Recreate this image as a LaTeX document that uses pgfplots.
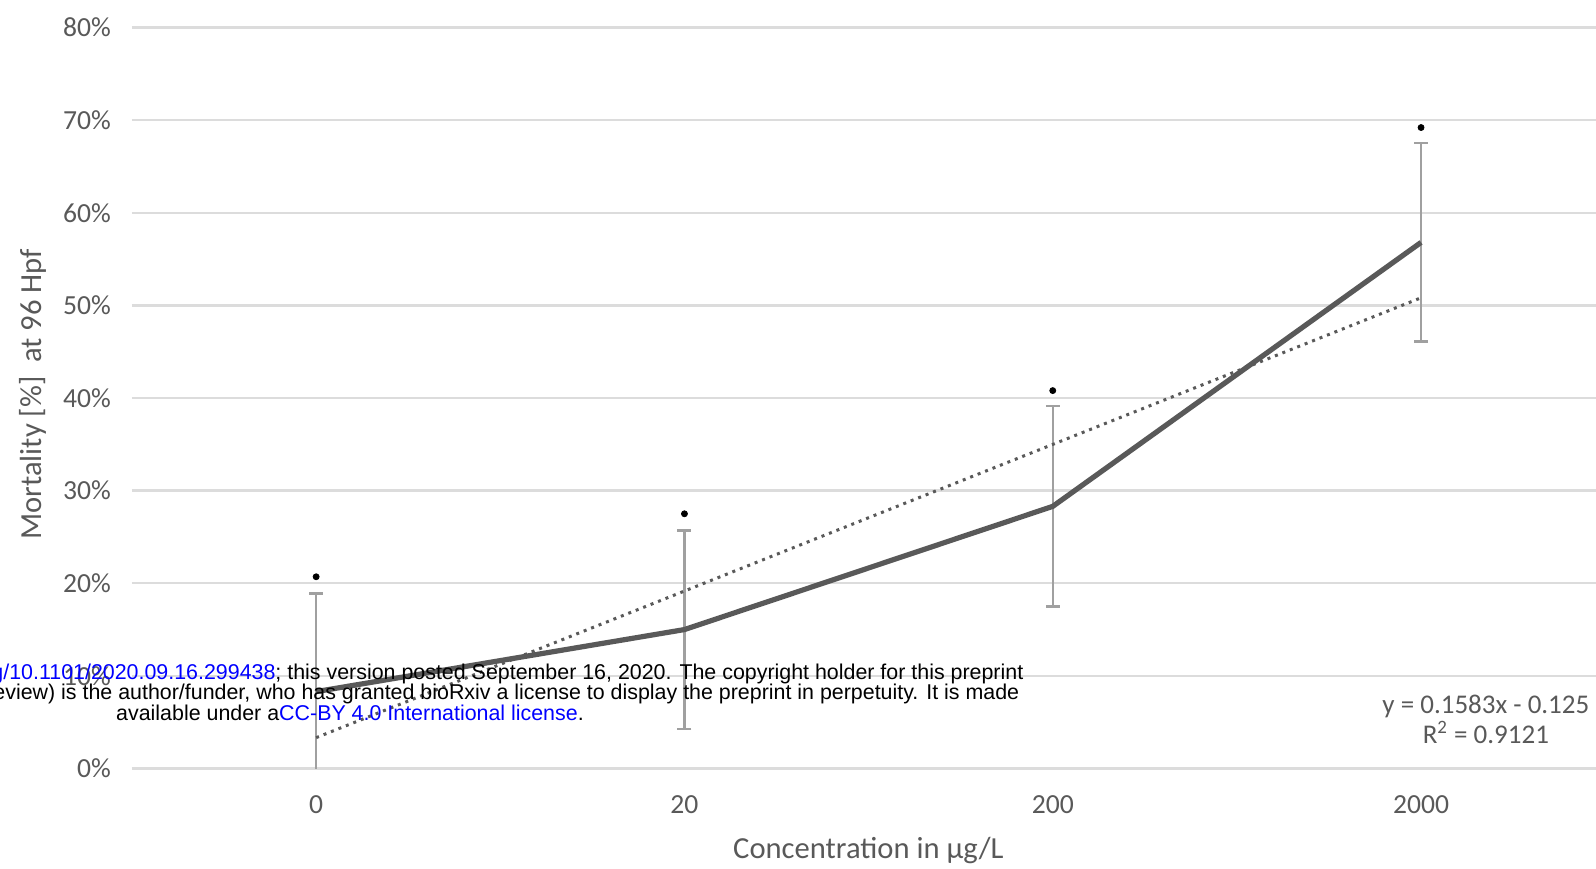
\documentclass[border=0pt]{standalone}
\usepackage{pgfplots}
\pgfplotsset{compat=1.18}
\usepackage{fontspec}
\setmainfont{Carlito}
\newfontfamily\arialfont{Liberation Sans}
\definecolor{textgray}{HTML}{595959}
\definecolor{gridgray}{HTML}{DCDCDC}
\definecolor{linegray}{HTML}{595959}
\definecolor{errgray}{HTML}{A0A0A0}
\definecolor{wmblue}{RGB}{0,0,255}
\begin{document}
\begin{tikzpicture}
\begin{axis}[
  name=ax,
  scale only axis,
  width=732pt, height=370.5pt,
  xmin=0.5, xmax=4.475, ymin=0, ymax=80,
  xtick={1,2,3,4}, xticklabels={0,20,200,2000},
  ytick={0,10,20,30,40,50,60,70,80},
  yticklabels={0\%,10\%,20\%,30\%,40\%,50\%,60\%,70\%,80\%},
  /pgf/number format/assume math mode=true,
  axis line style={draw=none},
  major tick length=0pt,
  ymajorgrids, grid style={gridgray, line width=1.2pt},
  tick label style={font=\fontsize{13.8}{16}\selectfont, text=textgray},
  xticklabel style={yshift=-10pt},
  yticklabel style={xshift=-7pt},
  xlabel={Concentration in µg/L},
  ylabel={Mortality [\%]\ \ at 96 Hpf},
  label style={font=\fontsize{15.3}{18}\selectfont, text=textgray},
  xlabel style={at={(axis description cs:0.503,-0.111)}, anchor=center},
  ylabel style={at={(axis description cs:-0.0676,0.505)}, anchor=center},
]
% error bars
\addplot[draw=none, mark=none, forget plot,
  error bars/.cd, y dir=both, y explicit,
  error bar style={errgray, line width=1.1pt},
  error mark options={rotate=90, mark size=3.5pt, errgray, line width=1.1pt}]
  coordinates {
  (1,8.3) +- (0,10.6)
  (2,15.0) +- (0,10.7)
  (3,28.3) +- (0,10.8)
  (4,56.8) +- (0,10.7)
};
% linear trend
\addplot[linegray, line width=1.5pt, dash pattern=on 1.5pt off 2.5pt]
  coordinates {(1,3.33) (4,50.82)};
% mean mortality
\addplot[linegray, line width=2.6pt, line join=round, mark=none]
  coordinates {(1,8.3) (2,15.0) (3,28.3) (4,56.8)};
% significance marks
\addplot[only marks, mark=*, mark size=1.5pt, black]
  coordinates {(1,20.7) (2,27.5) (3,40.8) (4,69.2)};
\node[align=center, text=textgray, font=\fontsize{13.5}{15.25}\selectfont]
  at (axis cs:4.176,5.3) {y = 0.1583x - 0.125\\R\textsuperscript{2} = 0.9121};
\end{axis}
\path (ax.south west) ++(109pt,38.25pt) node[align=center, inner sep=0pt, font=\arialfont\fontsize{10.7}{10.3}\selectfont]
{bioRxiv preprint doi: \textcolor{wmblue}{https://doi.org/10.1101/2020.09.16.299438}; this version posted September 16, 2020. The copyright holder for this preprint\\
(which was not certified by peer review) is the author/funder, who has granted bioRxiv a license to display the preprint in perpetuity. It is made\\
available under a\textcolor{wmblue}{CC-BY 4.0 International license}.};
\pgfresetboundingbox
\path[use as bounding box] (ax.south west) ++(-66pt,-49.75pt) rectangle ++(798pt,434pt);
\end{tikzpicture}
\end{document}
